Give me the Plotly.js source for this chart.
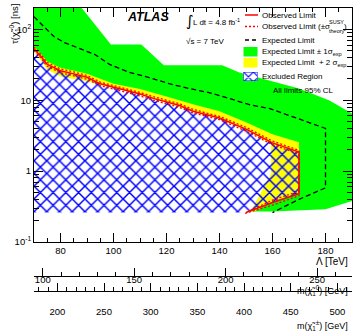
<!DOCTYPE html>
<html><head><meta charset="utf-8">
<script src="https://cdn.plot.ly/plotly-3.0.1.min.js"></script>
<style>html,body{margin:0;padding:0;background:#fff}#chart{width:355px;height:331px}</style>
</head><body><div id="chart"></div>
<script>
// ---- Observed limit contour (Lambda [TeV], tau [ns]) ----
const lambdaObs   = [70, 72.5, 75, 80, 85, 90, 95, 100, 105, 110, 115, 120, 125, 130, 140, 150, 160, 170];
const tauObsUpper = [53, 42, 32, 26, 23.5, 21, 17, 15.3, 13.5, 12.2, 10.6, 9.4, 8.4, 7.0, 5.6, 3.9, 2.5, 1.85];
const lambdaObsLower = [170, 160, 150, 70];
const tauObsLower    = [0.48, 0.36, 0.26, 0.26];
// theory +- 1 sigma (dotted)
const tauThUpUpper = [56, 44.5, 34, 27.6, 25, 22.3, 18, 16.2, 14.3, 12.9, 11.2, 10.0, 8.9, 7.4, 5.9, 4.15, 2.65, 1.96];
const lambdaThUpLower = [170, 160, 149];
const tauThUpLower    = [0.45, 0.33, 0.25];
const tauThDnUpper = [50, 39.5, 30, 24.4, 22.1, 19.7, 16, 14.4, 12.7, 11.5, 10, 8.85, 7.9, 6.6, 5.3, 3.67, 2.36, 1.74];
const lambdaThDnLower = [170, 160, 151];
const tauThDnLower    = [0.52, 0.39, 0.27];
// ---- Expected (median) ----
const lambdaExp = [70, 74, 77.5, 81.5, 87, 93, 98.5, 102, 106, 113.5, 121, 128.5, 136, 144, 151, 159, 170, 180, 180, 170, 160];
const tauExp    = [150, 106, 79, 65, 53.6, 44, 32, 28, 24.6, 20.8, 17.1, 14.6, 12.8, 10.5, 8.7, 7.6, 5.5, 4.0, 0.58, 0.40, 0.26];
// ---- Expected +1 sigma contour (outer edge of green) ----
const lambdaP1 = [70, 88, 99, 110.5, 119, 141, 147.5, 159, 170, 181.5, 190, 196, 196, 190, 180, 160, 70];
const tauP1    = [400, 200, 61, 61, 31, 31, 24.6, 18.9, 14.6, 9.9, 6.5, 5, 0.4, 0.38, 0.29, 0.27, 0.27];
// ---- Expected -1 sigma contour (outer edge of yellow) ----
const lambdaM1 = [70, 75, 80, 90, 100, 110, 120, 130, 140, 150, 160, 170, 170, 160, 153, 70];
const tauM1    = [57, 35, 28.6, 23.5, 17.1, 14.4, 11.3, 8.75, 7.0, 4.9, 3.3, 2.55, 0.5, 0.37, 0.27, 0.27];
// ---- Expected -2 sigma contour (inner edge of yellow) ----
const lambdaM2 = [70, 72.5, 75, 80, 85, 90, 95, 100, 110, 120, 130, 140, 150, 159.5, 159.5, 151.3, 70];
const tauM2    = [50, 36, 27, 21.5, 20, 18.5, 16.2, 15, 12, 9.2, 6.85, 5.45, 3.8, 2.4, 0.92, 0.25, 0.25];
// ---- axis ticks ----
const tauTickVals = [0.1, 1, 10, 100];
const tauTickText = ['10<sup>-1</sup>', '1', '10', '10<sup>2</sup>'];
const tauMinorVals = [0.2,0.3,0.4,0.5,0.6,0.7,0.8,0.9,2,3,4,5,6,7,8,9,20,30,40,50,60,70,80,90,200];
const neutralinoTicks = [100, 150, 200, 250];
const charginoTicks = [200, 250, 300, 350, 400, 450, 500];

const L = 34, R = 3, T = 8, B = 35, W = 355, Ht = 331;
const PW = W - L - R, PH = Ht - T - B, PB = Ht - B;
const px = x => (x - L) / PW;
const py = y => (PB - y) / PH;

const FONT = 'Liberation Sans, Arial, sans-serif';
const NARROW = 'Liberation Sans Narrow, Liberation Sans, Arial, sans-serif';

const hatch = {shape: 'x', fgcolor: '#0000ff', size: 9, solidity: 0.3, fillmode: 'replace'};

const traces = [
  {x: lambdaP1, y: tauP1, fill: 'toself', fillcolor: '#00ff00', line: {width: 0}, mode: 'lines', hoverinfo: 'skip', showlegend: false},
  {x: lambdaM1, y: tauM1, fill: 'toself', fillcolor: '#ffff00', line: {width: 0}, mode: 'lines', hoverinfo: 'skip', showlegend: false},
  {x: lambdaM2, y: tauM2, fill: 'toself', fillcolor: '#ffffff', line: {width: 0}, mode: 'lines', hoverinfo: 'skip', showlegend: false},
  {x: lambdaObs.concat(lambdaObsLower), y: tauObsUpper.concat(tauObsLower), fill: 'toself', fillcolor: 'rgba(0,0,0,0)',
   fillpattern: hatch, line: {width: 0}, mode: 'lines', hoverinfo: 'skip', showlegend: false},
  {x: lambdaExp, y: tauExp, mode: 'lines', line: {color: '#000', width: 1.3, dash: '5px,3px'}, hoverinfo: 'skip', showlegend: false},
  {x: lambdaObs.concat(lambdaThUpLower), y: tauThUpUpper.concat(tauThUpLower), mode: 'lines', line: {color: '#ff0000', width: 1.3, dash: '2px,2px'}, hoverinfo: 'skip', showlegend: false},
  {x: lambdaObs.concat(lambdaThDnLower), y: tauThDnUpper.concat(tauThDnLower), mode: 'lines', line: {color: '#ff0000', width: 1.3, dash: '2px,2px'}, hoverinfo: 'skip', showlegend: false},
  {x: lambdaObs.concat(lambdaObsLower.slice(0, 3)), y: tauObsUpper.concat(tauObsLower.slice(0, 3)), mode: 'lines', line: {color: '#ff0000', width: 1.5}, hoverinfo: 'skip', showlegend: false},
  // secondary mass axes
  {x: neutralinoTicks, y: [1, 1, 1, 1], xaxis: 'x2', yaxis: 'y', mode: 'lines', line: {width: 0, color: 'rgba(0,0,0,0)'}, hoverinfo: 'skip', showlegend: false},
  {x: charginoTicks, y: charginoTicks.map(() => 1), xaxis: 'x3', yaxis: 'y', mode: 'lines', line: {width: 0, color: 'rgba(0,0,0,0)'}, hoverinfo: 'skip', showlegend: false},
  // legend hatch box
  {x: [0, 1, 1, 0, 0], y: [0, 0, 1, 1, 0], xaxis: 'x4', yaxis: 'y4', fill: 'toself', fillcolor: 'rgba(0,0,0,0)',
   fillpattern: {shape: 'x', fgcolor: '#0000ff', size: 7, solidity: 0.3, fillmode: 'replace'},
   mode: 'lines', line: {color: '#0000ff', width: 1}, hoverinfo: 'skip', showlegend: false}
];

const tickFont = {family: FONT, size: 9.5, color: '#000'};
function ann(x, y, text, size, opts) {
  return Object.assign({xref: 'paper', yref: 'paper', x: px(x), y: py(y), xanchor: 'left', yanchor: 'middle',
    showarrow: false, text: text, font: {family: NARROW, size: size, color: '#000'}}, opts || {});
}
const layout = {
  width: W, height: Ht,
  margin: {l: L, r: R, t: T, b: B},
  paper_bgcolor: '#fff', plot_bgcolor: '#fff',
  font: {family: FONT, color: '#000'},
  showlegend: false,
  xaxis: {range: [70, 190], tick0: 0, dtick: 20, ticks: 'inside', ticklen: 9, tickcolor: '#000',
          showline: true, linecolor: '#000', linewidth: 1, mirror: 'ticks', showgrid: false, zeroline: false,
          tickfont: tickFont, minor: {dtick: 5, ticks: 'inside', ticklen: 4, tickcolor: '#000'}},
  yaxis: {type: 'log', range: [-1, 2.3], domain: [py(242), 1], tickmode: 'array', tickvals: tauTickVals, ticktext: tauTickText,
          ticks: 'inside', ticklen: 9, tickcolor: '#000', showline: true, linecolor: '#000', linewidth: 1, mirror: 'ticks',
          showgrid: false, zeroline: false, tickfont: tickFont,
          minor: {tickmode: 'array', tickvals: tauMinorVals, ticks: 'inside', ticklen: 5, tickcolor: '#000'}},
  xaxis2: {overlaying: 'x', anchor: 'free', position: py(276), side: 'bottom', range: [95.2, 269.1],
           tickmode: 'array', tickvals: neutralinoTicks, ticks: 'inside', ticklen: 8, tickcolor: '#000',
           showline: true, linecolor: '#000', linewidth: 1, showgrid: false, zeroline: false, tickfont: tickFont,
           ticklabelstandoff: -5, minor: {dtick: 10, tick0: 0, ticks: 'inside', ticklen: 4, tickcolor: '#000'}},
  xaxis3: {overlaying: 'x', anchor: 'free', position: py(291), side: 'bottom', range: [175, 515.7],
           tickmode: 'array', tickvals: charginoTicks, ticks: 'inside', ticklen: 8, tickcolor: '#000',
           showline: true, linecolor: '#000', linewidth: 1, showgrid: false, zeroline: false, tickfont: tickFont,
           ticklabelstandoff: 12, minor: {dtick: 10, tick0: 0, ticks: 'inside', ticklen: 4, tickcolor: '#000'}},
  xaxis4: {domain: [px(243.5), px(257.5)], range: [0, 1], visible: false, anchor: 'y4'},
  yaxis4: {domain: [py(81), py(72)], range: [0, 1], visible: false, anchor: 'x4'},
  shapes: [
    {type: 'line', xref: 'paper', yref: 'paper', x0: px(245), x1: px(258), y0: py(15), y1: py(15), line: {color: '#ff0000', width: 1.5}},
    {type: 'line', xref: 'paper', yref: 'paper', x0: px(245), x1: px(258), y0: py(26.5), y1: py(26.5), line: {color: '#ff0000', width: 1.3, dash: '2px,2px'}},
    {type: 'line', xref: 'paper', yref: 'paper', x0: px(245), x1: px(258), y0: py(40), y1: py(40), line: {color: '#000', width: 1.3, dash: '4px,3px'}},
    {type: 'rect', xref: 'paper', yref: 'paper', x0: px(243.5), x1: px(257.5), y0: py(56.5), y1: py(47), fillcolor: '#00ff00', line: {width: 0}},
    {type: 'rect', xref: 'paper', yref: 'paper', x0: px(243.5), x1: px(257.5), y0: py(67.5), y1: py(58), fillcolor: '#ffff00', line: {width: 0}}
  ],
  annotations: [
    ann(14, 2, 'τ(χ̃<sub>1</sub><sup>0</sup>) [ns]', 9.5, {xanchor: 'center', yanchor: 'top', textangle: -90, font: {family: FONT, size: 9.5}}),
    ann(350, 261.5, 'Λ [TeV]', 10, {xanchor: 'right', font: {family: FONT, size: 10}}),
    ann(350, 290, 'm(χ̃<sub>1</sub><sup>0</sup>) [GeV]', 9, {xanchor: 'right', font: {family: FONT, size: 9}}),
    ann(350, 325, 'm(χ̃<sub>1</sub><sup>±</sup>) [GeV]', 9, {xanchor: 'right', font: {family: FONT, size: 9}}),
    ann(148, 17, '<b><i>ATLAS</i></b>', 12.5, {xanchor: 'center', font: {family: FONT, size: 12.5}}),
    ann(184, 21, '∫', 15, {font: {family: 'DejaVu Sans, sans-serif', size: 15}}),
    ann(191, 22, 'L dt = 4.8 fb<sup>-1</sup>', 8),
    ann(184, 41, '√s = 7 TeV', 8),
    ann(260, 15, 'Observed Limit', 8),
    ann(260, 26.5, 'Observed Limit (±σ', 8),
    ann(327, 22, 'SUSY', 5.5),
    ann(327, 31, 'theory', 5.5),
    ann(342, 26.5, ')', 8),
    ann(260, 40, 'Expected Limit', 8),
    ann(260, 52, 'Expected Limit ± 1σ<sub>exp</sub>', 8),
    ann(260, 62.5, 'Expected Limit  + 2 σ<sub>exp</sub>', 8),
    ann(260, 76.5, 'Excluded Region', 8),
    ann(303, 90, 'All limits 95% CL', 8, {xanchor: 'center'})
  ]
};

Plotly.newPlot('chart', traces, layout, {staticPlot: true, displayModeBar: false});
</script></body></html>
